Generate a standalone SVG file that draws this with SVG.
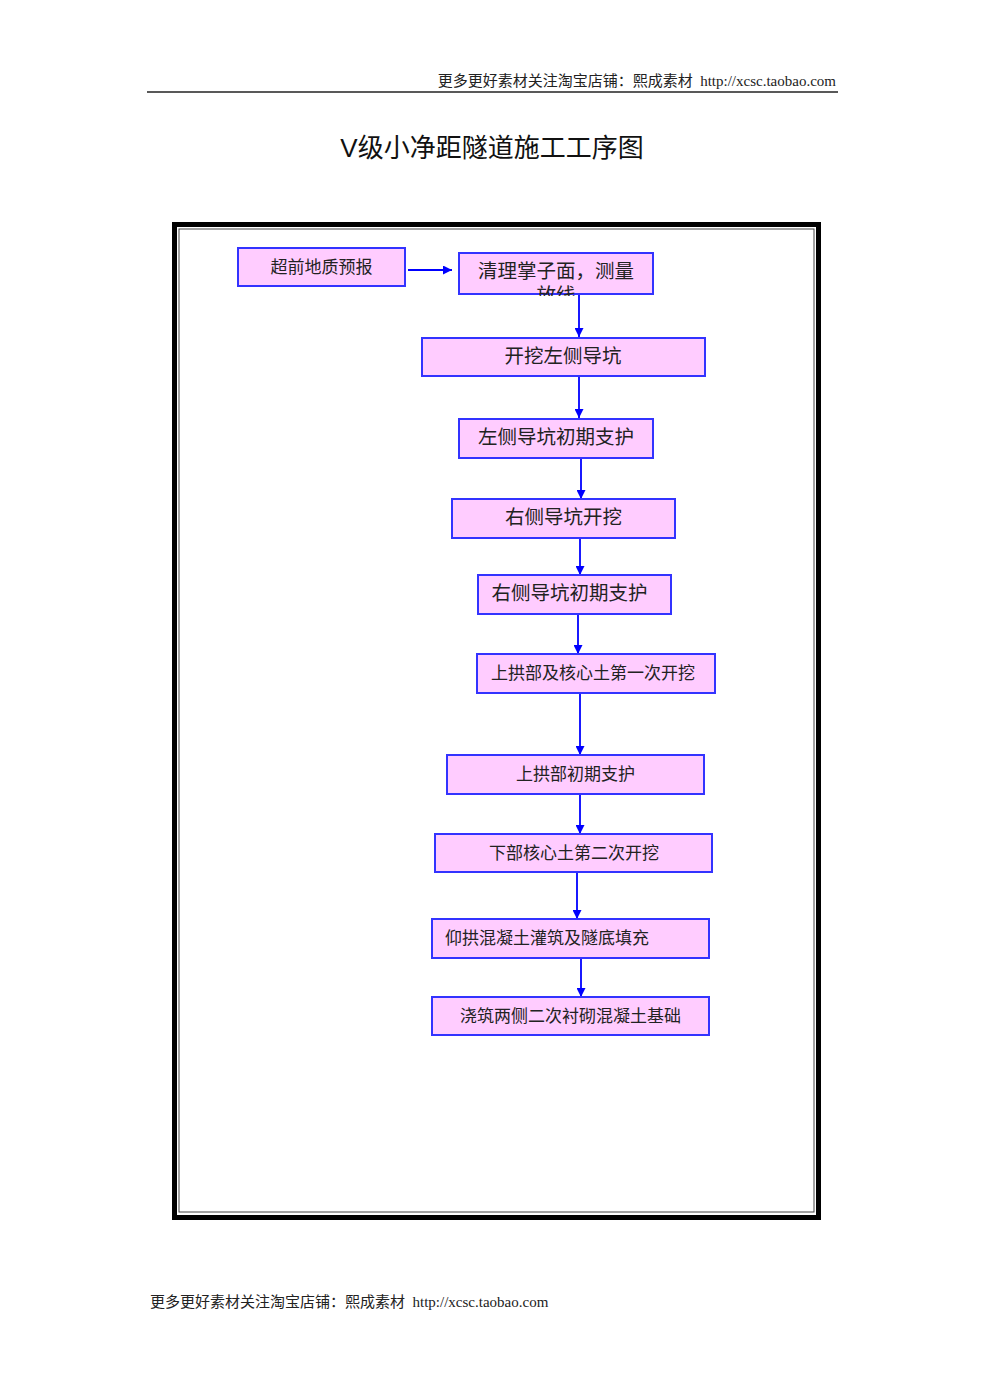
<svg xmlns="http://www.w3.org/2000/svg" width="985" height="1393" viewBox="0 0 985 1393">
<style>
.bx{fill:#FFCCFF;stroke:#3333FF;stroke-width:2}
.t{font-family:"Liberation Serif","Noto Sans CJK SC",serif;fill:#222}
.l{font-size:19.5px;text-anchor:middle}
.s{font-size:17px;text-anchor:middle}
.hd{font-family:"Liberation Serif","Noto Sans CJK SC",serif;font-size:15px;fill:#222}
.cn{stroke:#0000FF;stroke-width:1.8;fill:none;marker-end:url(#ah)}
</style>
<defs>
<marker id="ah" viewBox="0 0 10 10" refX="10" refY="5" markerWidth="11" markerHeight="9" markerUnits="userSpaceOnUse" orient="auto"><path d="M0,0 L10,5 L0,10 z" fill="#0000FF"/></marker>
<clipPath id="c2"><rect x="459" y="253" width="194" height="43"/></clipPath>
</defs>
<rect width="985" height="1393" fill="#fff"/>
<g id="header">
<text class="hd" x="836" y="86" text-anchor="end" xml:space="preserve">更多更好素材关注淘宝店铺：熙成素材  http://xcsc.taobao.com</text>
<line x1="147" y1="92" x2="838" y2="92" stroke="#222" stroke-width="1.5"/>
</g>
<text id="title" x="492" y="157" text-anchor="middle" font-family="Liberation Sans,'Noto Sans CJK SC',sans-serif" font-size="26" fill="#111">V级小净距隧道施工工序图</text>
<g id="frame">
<rect x="174.5" y="224.5" width="644" height="993" fill="none" stroke="#000" stroke-width="5"/>
<rect x="179" y="229" width="635" height="983" fill="none" stroke="#444" stroke-width="1"/>
</g>
<g id="connectors">
<line class="cn" x1="408" y1="270" x2="452" y2="270"/>
<line class="cn" x1="579" y1="294" x2="579" y2="337"/>
<line class="cn" x1="579" y1="376" x2="579" y2="418"/>
<line class="cn" x1="581" y1="458" x2="581" y2="499"/>
<line class="cn" x1="580" y1="538" x2="580" y2="575"/>
<line class="cn" x1="578" y1="614" x2="578" y2="654"/>
<line class="cn" x1="580" y1="693" x2="580" y2="755"/>
<line class="cn" x1="580" y1="794" x2="580" y2="834"/>
<line class="cn" x1="577" y1="872" x2="577" y2="919"/>
<line class="cn" x1="581" y1="958" x2="581" y2="997"/>
</g>
<g id="n1"><rect class="bx" x="238" y="248" width="167" height="38"/><text class="t s" x="321.5" y="273">超前地质预报</text></g>
<g id="n2"><rect class="bx" x="459" y="253" width="194" height="41"/><g clip-path="url(#c2)"><text class="t l" x="556" y="278">清理掌子面，测量</text><text class="t l" x="556" y="302">放线</text></g></g>
<g id="n3"><rect class="bx" x="422" y="338" width="283" height="38"/><text class="t l" x="563" y="363">开挖左侧导坑</text></g>
<g id="n4"><rect class="bx" x="459" y="419" width="194" height="39"/><text class="t l" x="556" y="444">左侧导坑初期支护</text></g>
<g id="n5"><rect class="bx" x="452" y="499" width="223" height="39"/><text class="t l" x="563.5" y="524">右侧导坑开挖</text></g>
<g id="n6"><rect class="bx" x="478" y="575" width="193" height="39"/><text class="t l" x="569.5" y="600">右侧导坑初期支护</text></g>
<g id="n7"><rect class="bx" x="477" y="654" width="238" height="39"/><text class="t s" x="593" y="679">上拱部及核心土第一次开挖</text></g>
<g id="n8"><rect class="bx" x="447" y="755" width="257" height="39"/><text class="t s" x="575.5" y="780">上拱部初期支护</text></g>
<g id="n9"><rect class="bx" x="435" y="834" width="277" height="38"/><text class="t s" x="574" y="859">下部核心土第二次开挖</text></g>
<g id="n10"><rect class="bx" x="432" y="919" width="277" height="39"/><text class="t" font-size="17" x="445" y="944">仰拱混凝土灌筑及隧底填充</text></g>
<g id="n11"><rect class="bx" x="432" y="997" width="277" height="38"/><text class="t s" x="570.5" y="1022">浇筑两侧二次衬砌混凝土基础</text></g>
<text id="footer" class="hd" x="150" y="1307" xml:space="preserve">更多更好素材关注淘宝店铺：熙成素材  http://xcsc.taobao.com</text>
</svg>
